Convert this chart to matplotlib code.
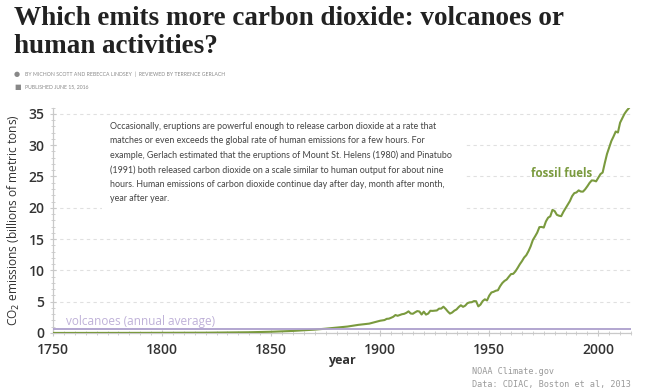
import matplotlib
matplotlib.use("Agg")
import matplotlib.pyplot as plt
from matplotlib.patches import Rectangle
from matplotlib.ticker import MultipleLocator

# ---- data (billions of metric tons CO2) ----
early_years = [1750, 1760, 1770, 1780, 1790, 1800, 1810, 1820, 1830, 1840,
               1850, 1855, 1860, 1865, 1870, 1875, 1880, 1885, 1890, 1895]
early_values = [0.01, 0.01, 0.01, 0.015, 0.02, 0.03, 0.04, 0.05, 0.09, 0.12,
                0.20, 0.26, 0.33, 0.43, 0.54, 0.69, 0.86, 1.03, 1.30, 1.50]
modern_years = list(range(1900, 2015))
modern_values = [
    1.96, 2.02, 2.07, 2.26, 2.29, 2.43, 2.59, 2.87, 2.75, 2.88,
    3.00, 3.06, 3.22, 3.46, 3.11, 3.07, 3.30, 3.50, 3.43, 2.95,
    3.41, 2.94, 3.10, 3.55, 3.53, 3.57, 3.60, 3.89, 3.90, 4.20,
    3.86, 3.44, 3.10, 3.27, 3.57, 3.76, 4.14, 4.43, 4.18, 4.37,
    4.76, 4.89, 4.92, 5.10, 5.07, 4.25, 4.54, 5.10, 5.38, 5.20,
    5.97, 6.47, 6.58, 6.75, 6.83, 7.48, 7.98, 8.32, 8.54, 8.99,
    9.41, 9.45, 9.84, 10.38, 10.97, 11.47, 12.05, 12.43, 13.07, 13.85,
    14.85, 15.42, 16.03, 16.91, 16.94, 16.84, 17.82, 18.42, 18.64, 19.67,
    19.47, 18.88, 18.73, 18.66, 19.35, 19.93, 20.54, 21.08, 21.86, 22.34,
    22.45, 22.78, 22.59, 22.58, 22.96, 23.44, 23.97, 24.37, 24.34, 24.22,
    24.79, 25.38, 25.63, 27.17, 28.60, 29.65, 30.67, 31.39, 32.18, 32.02,
    33.59, 34.31, 35.00, 35.50, 35.90]
volcano_avg = 0.6
x_ticks = [1750, 1800, 1850, 1900, 1950, 2000]
y_ticks = [0, 5, 10, 15, 20, 25, 30, 35]

years = early_years + modern_years
values = early_values + modern_values

GREEN = "#7a9a3e"
PURPLE = "#ad9fcd"
GRAY = "#c9c9c9"

fig = plt.figure(figsize=(6.66, 3.90), dpi=100)
fig.patch.set_facecolor("white")
ax = fig.add_axes([53/666, 1-333/390, (631-53)/666, (333-107.6)/390])

ax.set_xlim(1750, 2015)
ax.set_ylim(0, 36)
ax.set_xticks(x_ticks)
ax.set_yticks(y_ticks)
ax.xaxis.set_minor_locator(MultipleLocator(5))
ax.yaxis.set_minor_locator(MultipleLocator(1))
ax.tick_params(axis="both", which="both", color=GRAY, labelsize=10,
               labelcolor="#333333", direction="inout")
ax.tick_params(which="major", length=4, width=0.8)
ax.tick_params(which="minor", length=3, width=0.6)
ax.tick_params(axis="x", pad=5)
ax.tick_params(axis="y", pad=4)
for lab in ax.get_xticklabels() + ax.get_yticklabels():
    lab.set_family("Open Sans")
    lab.set_fontweight("semibold")
for s in ["top", "right"]:
    ax.spines[s].set_visible(False)
for s in ["left", "bottom"]:
    ax.spines[s].set_color(GRAY)
    ax.spines[s].set_linewidth(0.9)

ax.set_axisbelow(True)
ax.yaxis.grid(True, color="#e0e0e0", linestyle=(0, (3, 3)), linewidth=0.8)

# white annotation box hiding grid
ax.add_patch(Rectangle((1751.8, 21.5), 1939 - 1751.8, 11.5, facecolor="white",
                       edgecolor="none", zorder=1.5))
ax.add_patch(Rectangle((1772.5, 18.5), 1939 - 1772.5, 3.2, facecolor="white",
                       edgecolor="none", zorder=1.5))

ax.plot(years, values, color=GREEN, linewidth=1.5, zorder=3)
ax.axhline(volcano_avg, color=PURPLE, linewidth=1.3, zorder=4)

ax.text(1756, 1.3, "volcanoes (annual average)", color="#bfb1d8",
        fontsize=8.5, family="Open Sans", va="baseline", ha="left", zorder=5)
ax.text(1969.3, 25.4, "fossil fuels", color=GREEN, fontsize=8.3,
        fontweight="bold", family="Open Sans", va="center", ha="left", zorder=5)

ax.set_ylabel("CO$_2$ emissions (billions of metric tons)", fontsize=8.6,
              color="#333333", family="Open Sans")
ax.yaxis.set_label_coords((22 - 53) / 578, 0.5)
ax.set_xlabel("year", fontsize=9, fontweight="bold", color="#333333",
              family="Open Sans", labelpad=-2)

note = ("Occasionally, eruptions are powerful enough to release carbon dioxide at a rate that\n"
        "matches or even exceeds the global rate of human emissions for a few hours. For\n"
        "example, Gerlach estimated that the eruptions of Mount St. Helens (1980) and Pinatubo\n"
        "(1991) both released carbon dioxide on a scale similar to human output for about nine\n"
        "hours. Human emissions of carbon dioxide continue day after day, month after month,\n"
        "year after year.")
fig.text(110/666, 1-122/390, note, fontsize=6.4, family="Lato", color="#444444",
         va="top", ha="left", linespacing=1.72)

# title and byline
fig.text(14/666, 1-6/390, "Which emits more carbon dioxide: volcanoes or\nhuman activities?",
         fontsize=19.5, family="Liberation Serif", fontweight="bold", color="#222222",
         va="top", ha="left", linespacing=1.15)
fig.text(14/666, 1-74/390, "\u25cf", fontsize=5, color="#888888", va="center", ha="left")
fig.text(25/666, 1-74/390,
         "BY MICHON SCOTT AND REBECCA LINDSEY  |  REVIEWED BY TERRENCE GERLACH",
         fontsize=3.7, family="Lato", color="#888888", va="center", ha="left")
fig.text(14/666, 1-87/390, "\u25a0", fontsize=5, color="#888888", va="center", ha="left")
fig.text(25/666, 1-87/390, "PUBLISHED JUNE 15, 2016",
         fontsize=3.7, family="Lato", color="#888888", va="center", ha="left")

# source
fig.text(472/666, 1-372/390, "NOAA Climate.gov", fontsize=6.1, family="DejaVu Sans Mono",
         color="#9a9a9a", va="center", ha="left")
fig.text(472/666, 1-384/390, "Data: CDIAC, Boston et al, 2013", fontsize=6.1,
         family="DejaVu Sans Mono", color="#9a9a9a", va="center", ha="left")

fig.savefig("out.png", dpi=100, facecolor="white")
